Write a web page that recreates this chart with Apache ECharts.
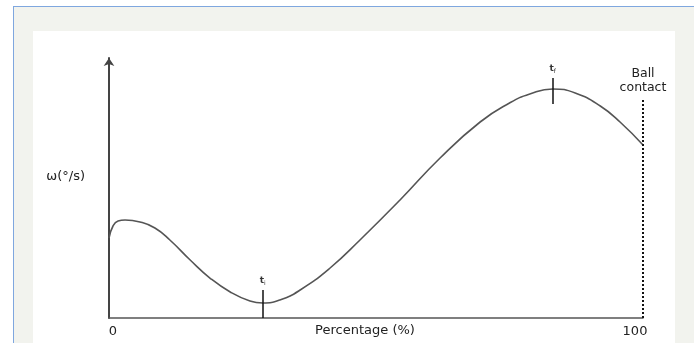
<!DOCTYPE html>
<html>
<head>
<meta charset="utf-8">
<script src="https://cdn.jsdelivr.net/npm/echarts@6/dist/echarts.min.js"></script>
<style>
html,body{margin:0;padding:0;width:694px;height:343px;overflow:hidden;background:#ffffff;}
#frame{position:absolute;left:13px;top:6px;width:681px;height:337px;background:#f2f3ee;border-left:1.5px solid #7fa7df;border-top:1.5px solid #7fa7df;box-sizing:border-box;}
#panel{position:absolute;left:33px;top:31px;width:642px;height:312px;background:#ffffff;}
#chart{position:absolute;left:0;top:0;width:694px;height:343px;}
</style>
</head>
<body>
<div id="frame"></div>
<div id="panel"></div>
<div id="chart"></div>
<script>
// Percentage of movement (x) and angular velocity (arbitrary units, y)
const xPct  = [0, 0.75, 1.7, 3, 5.8, 8.6, 11.4, 15.2, 18.9, 22.7, 26.4, 28.8, 32, 35.8, 41.4, 47, 54.5, 62, 69.5, 75, 78.8, 83.1, 87.3, 92, 95.7, 100];
const omega = [80, 92, 97, 98, 96, 90, 78, 58, 40, 26, 17, 15, 18, 28, 50, 78, 118, 160, 196, 215, 224, 229, 225, 212, 196, 173];
const xTickLabels = ['0', '100'];
const tiX = 28.8, tfX = 83.1, contactX = 100;

const curve = xPct.map((x, i) => [x, omega[i]]);
const chart = echarts.init(document.getElementById('chart'), null, {renderer: 'canvas'});
const font = 'DejaVu Sans';
chart.setOption({
  animation: false,
  backgroundColor: 'transparent',
  grid: {left: 109, right: 51, top: 58, bottom: 25, containLabel: false, outerBoundsMode: 'none'},
  xAxis: {
    type: 'value', min: 0, max: 100, interval: 100,
    splitLine: {show: false}, axisTick: {show: false},
    axisLine: {lineStyle: {color: '#555', width: 1.5}},
    axisLabel: {
      margin: 7, color: '#222', fontFamily: font, fontSize: 13,
      formatter: v => v === 0 ? '{a|' + xTickLabels[0] + '}' : '{b|' + xTickLabels[1] + '}',
      rich: {
        a: {fontFamily: font, fontSize: 13, color: '#222', padding: [0, 0, 0, 8]},
        b: {fontFamily: font, fontSize: 13, color: '#222', padding: [0, 16, 0, 0]}
      }
    },
    name: 'Percentage (%)', nameLocation: 'middle', nameGap: 6, nameMoveOverlap: false,
    nameTextStyle: {fontFamily: font, fontSize: 13, color: '#222', padding: [0, 22, 0, 0], verticalAlign: 'top'}
  },
  yAxis: {
    type: 'value', min: 0, max: 260,
    splitLine: {show: false}, axisTick: {show: false}, axisLabel: {show: false},
    axisLine: {show: true, symbol: ['none', 'arrow'], symbolSize: [8, 8], lineStyle: {color: '#444', width: 2}},
    name: 'ω(°/s)', nameLocation: 'middle', nameRotate: 0, nameGap: 24, nameMoveOverlap: false,
    nameTextStyle: {fontFamily: font, fontSize: 13, color: '#222', verticalAlign: 'bottom', lineHeight: 22}
  },
  series: [{
    type: 'line', data: curve, smooth: true, showSymbol: false,
    lineStyle: {color: '#555', width: 1.6},
    markLine: {
      silent: true, symbol: 'none', animation: false,
      data: [
        [{coord: [tiX, 0], lineStyle: {color: '#111', width: 1.5, type: 'solid'},
          label: {show: true, position: 'end', distance: 4, formatter: '{t|t}{s|i}',
            rich: {t: {fontSize: 9, fontFamily: font, color: '#333', fontWeight: 'bold'}, s: {fontSize: 6, fontFamily: font, color: '#333', verticalAlign: 'bottom', padding: [4, 0, 0, 0]}}}},
         {coord: [tiX, 28]}],
        [{coord: [tfX, 214], lineStyle: {color: '#111', width: 1.5, type: 'solid'},
          label: {show: true, position: 'end', distance: 4, formatter: '{t|t}{s|f}',
            rich: {t: {fontSize: 9, fontFamily: font, color: '#333', fontWeight: 'bold'}, s: {fontSize: 6, fontFamily: font, color: '#333', verticalAlign: 'bottom', padding: [4, 0, 0, 0]}}}},
         {coord: [tfX, 240]}],
        [{coord: [contactX, 0], lineStyle: {color: '#111', width: 2, type: [2, 2]},
          label: {show: true, position: 'end', distance: 5, formatter: 'Ball\ncontact', fontFamily: font, fontSize: 12.5, color: '#222', lineHeight: 14, align: 'center'}},
         {coord: [contactX, 218]}]
      ]
    }
  }]
});
</script>
</body>
</html>
